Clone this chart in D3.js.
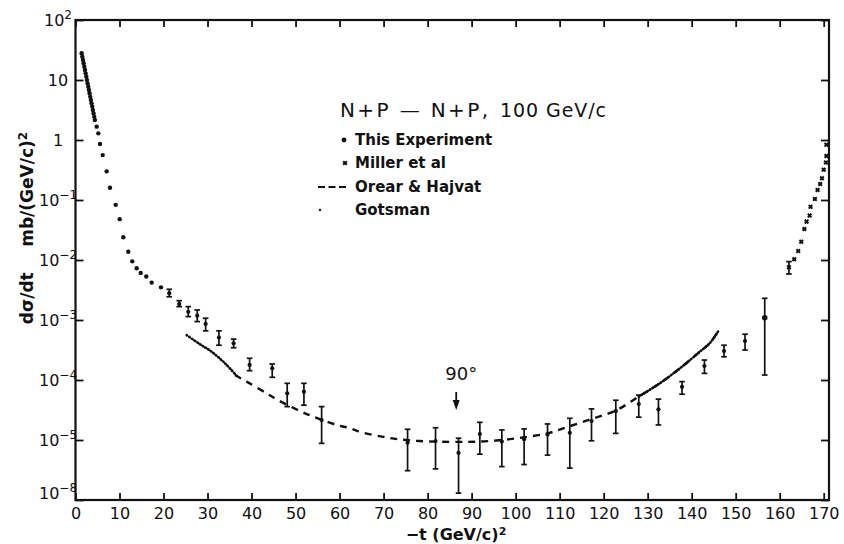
<!DOCTYPE html>
<html>
<head>
<meta charset="utf-8">
<script src="https://cdn.jsdelivr.net/npm/d3@7"></script>
<style>
body { margin: 0; background: #fff; }
text { font-family: "DejaVu Sans", sans-serif; fill: #111; }
</style>
</head>
<body>
<div id="graph"></div>
<script>
// This Experiment, points without visible error bars (-t, dsigma/dt in mb/(GeV/c)^2)
var expT = [1.40,1.55,1.70,1.85,2.00,2.15,2.30,2.45,2.60,2.75,2.90,3.05,3.20,3.35,3.50,3.65,3.80,3.95,4.10,4.25,4.40,
            4.81,5.18,5.56,6.18,7.09,7.84,9.13,10.04,10.86,11.99,12.9,13.9,14.81,16.08,17.31,19.42];
var expV = [27.9,24.5,21.6,19.0,16.7,14.7,12.9,11.4,10.0,8.8,7.75,6.82,6.0,5.28,4.64,4.08,3.6,3.16,2.78,2.45,2.15,
            1.67,1.29,0.86,0.56,0.30,0.16,0.083,0.048,0.024,0.0137,0.0095,0.0073,0.0061,0.0053,0.0042,0.0035];

// This Experiment, points with error bars
var errT  = [21.3,23.57,25.62,27.66,29.57,32.59,35.93,39.56,44.7,48.1,51.9,55.92,75.45,81.8,87.03,91.87,96.87,
             101.93,107.25,112.31,117.24,122.76,127.98,132.45,137.81,142.9,147.35,152.12,156.6];
var errV  = [0.0028,0.00185,0.00137,0.00118,0.00086,0.00051,0.00041,1.78e-4,1.57e-4,6.0e-5,6.4e-5,2.15e-5,9.0e-6,
             9.6e-6,6.1e-6,1.26e-5,9.4e-6,1.03e-5,1.24e-5,1.32e-5,2.07e-5,3.04e-5,3.98e-5,3.25e-5,7.7e-5,1.71e-4,
             3.04e-4,4.47e-4,1.09e-3];
var errLo = [0.00244,0.00167,0.00114,0.00094,0.00066,0.00038,0.000345,1.43e-4,1.11e-4,3.6e-5,3.8e-5,8.8e-6,3.08e-6,
             3.3e-6,1.3e-6,5.8e-6,3.6e-6,3.9e-6,5.6e-6,3.4e-6,9.7e-6,1.29e-5,2.4e-5,1.78e-5,5.8e-5,1.29e-4,2.44e-4,
             3.16e-4,1.21e-4];
var errHi = [0.00325,0.0021,0.00167,0.00147,0.00107,0.00066,0.00048,2.3e-4,1.85e-4,8.8e-5,8.8e-5,3.6e-5,1.51e-5,
             1.6e-5,1.07e-5,1.97e-5,1.47e-5,1.53e-5,1.85e-5,2.3e-5,3.3e-5,4.6e-5,5.6e-5,4.8e-5,9.4e-5,2.15e-4,3.8e-4,
             5.8e-4,2.3e-3];

// Miller et al (backward region)
var millerT = [162.1,163.3,164.2,164.9,165.6,166.1,166.8,167.0,168.0,168.6,169.2,169.6,170.0,170.5,170.6,170.6];
var millerV = [0.0076,0.0103,0.0141,0.0202,0.0329,0.0436,0.055,0.077,0.104,0.147,0.185,0.23,0.32,0.42,0.54,0.83];
var millerBarT = [162.1], millerBarLo = [0.00585], millerBarHi = [0.0094];

// Orear & Hajvat (dashed)
var orearT = [36.23,38.88,43.43,46.06,51.37,54.01,59.32,62.34,65.36,69.91,73.31,78.24,86.87,91.87,96.87,101.93,
              107.25,111.56,117.24,122.76,127.98,132.75,137.81,141.83,144.1,146.2];
var orearV = [1.21e-4,9.4e-5,6.0e-5,4.6e-5,2.96e-5,2.45e-5,1.78e-5,1.57e-5,1.32e-5,1.13e-5,1.03e-5,9.6e-6,9.3e-6,
              9.4e-6,1.0e-5,1.11e-5,1.29e-5,1.63e-5,2.24e-5,3.1e-5,5.3e-5,8.8e-5,1.67e-4,2.96e-4,4.1e-4,6.8e-4];

// Gotsman (dotted), two visible pieces
var gotsLoT = [25.26,28.28,30.93,33.95,36.6];
var gotsLoV = [5.6e-4,3.94e-4,2.96e-4,1.9e-4,1.18e-4];
var gotsHiT = [128.0,132.75,137.81,141.83,144.1,146.2];
var gotsHiV = [5.3e-5,8.8e-5,1.67e-4,2.96e-4,4.1e-4,6.8e-4];

var xTicks = [0,10,20,30,40,50,60,70,80,90,100,110,120,130,140,150,160,170];
var yTicks = [1e-6,1e-5,1e-4,1e-3,1e-2,1e-1,1,10,100];
var yTickExp = ["-8","-5","-4","-3","-2","-1","","","2"];
var t90 = 86.5;

var W = 844, H = 544;
var svg = d3.select("#graph").append("svg")
  .attr("width", W).attr("height", H);

var x = d3.scaleLinear().domain([0, 171.2]).range([75.5, 829]);
var y = d3.scaleLog().domain([1e-6, 1e2]).range([500, 20]);

// axes, ticks pointing inward
var gx = svg.append("g").attr("transform", "translate(0,500)")
  .call(d3.axisBottom(x).tickValues(xTicks).tickSizeInner(-7).tickSizeOuter(0).tickPadding(8));
gx.selectAll("text").style("font-size", "16px").attr("fill", "#111");

svg.append("g").attr("transform", "translate(0,20)")
  .call(d3.axisTop(x).tickValues(xTicks).tickSizeInner(-7).tickSizeOuter(0).tickFormat(""));
svg.append("g").attr("transform", "translate(75.5,0)")
  .call(d3.axisLeft(y).tickValues(yTicks).tickSizeInner(-8).tickSizeOuter(0).tickFormat(""));
svg.append("g").attr("transform", "translate(829,0)")
  .call(d3.axisRight(y).tickValues(yTicks).tickSizeInner(-8).tickSizeOuter(0).tickFormat(""));
svg.selectAll(".domain").remove();
svg.selectAll(".tick line").attr("stroke", "#111").attr("stroke-width", 1.8);

svg.append("rect")
  .attr("x", 75.5).attr("y", 20).attr("width", 829 - 75.5).attr("height", 480)
  .attr("fill", "none").attr("stroke", "#111").attr("stroke-width", 2.2);

// y tick labels with exponents
yTicks.forEach(function(v, i) {
  var t = svg.append("text")
    .attr("x", 58).attr("y", y(v) + (i == 0 ? -7 : 0)).attr("dy", "0.36em")
    .attr("text-anchor", "middle").style("font-size", "16px");
  if (v == 1) { t.text("1"); return; }
  t.append("tspan").text("10");
  if (yTickExp[i] != "") {
    t.append("tspan").attr("dy", "-0.55em").style("font-size", "12px").text(yTickExp[i].replace("-", "\u2212"));
  }
});

// axis titles
svg.append("text")
  .attr("x", 456).attr("y", 540).attr("text-anchor", "middle")
  .style("font-size", "16px").style("font-weight", "bold")
  .html('\u2212t (GeV/c)<tspan dy="-0.5em" style="font-size:11px">2</tspan>');

svg.append("text")
  .attr("transform", "translate(33,228) rotate(-90)")
  .attr("text-anchor", "middle")
  .style("font-size", "17px").style("font-weight", "bold")
  .html('d\u03c3/dt\u2003\u2002mb/(GeV/c)<tspan dy="-0.5em" style="font-size:12px">2</tspan>');

// curves
var line = d3.line()
  .x(function(d) { return x(d[0]); })
  .y(function(d) { return y(d[1]); })
  .curve(d3.curveCatmullRom);

svg.append("path")
  .datum(orearT.map(function(t, i) { return [t, orearV[i]]; }))
  .attr("d", line).attr("fill", "none").attr("stroke", "#111")
  .attr("stroke-width", 2.4).attr("stroke-dasharray", "7,6");

[[gotsLoT, gotsLoV], [gotsHiT, gotsHiV]].forEach(function(s) {
  svg.append("path")
    .datum(s[0].map(function(t, i) { return [t, s[1][i]]; }))
    .attr("d", line).attr("fill", "none").attr("stroke", "#111")
    .attr("stroke-width", 2.6).attr("stroke-linecap", "round").attr("stroke-dasharray", "0.8,2.4");
});

// error bars
function errorBars(ts, lo, hi) {
  var g = svg.append("g").attr("stroke", "#111").attr("stroke-width", 1.7);
  ts.forEach(function(t, i) {
    g.append("line").attr("x1", x(t)).attr("x2", x(t)).attr("y1", y(lo[i])).attr("y2", y(hi[i]));
    g.append("line").attr("x1", x(t) - 2.8).attr("x2", x(t) + 2.8).attr("y1", y(lo[i])).attr("y2", y(lo[i]));
    g.append("line").attr("x1", x(t) - 2.8).attr("x2", x(t) + 2.8).attr("y1", y(hi[i])).attr("y2", y(hi[i]));
  });
}
errorBars(errT, errLo, errHi);
errorBars(millerBarT, millerBarLo, millerBarHi);

svg.append("g").selectAll("circle")
  .data(expT.map(function(t, i) { return [t, expV[i]]; }))
  .enter().append("circle")
  .attr("cx", function(d) { return x(d[0]); })
  .attr("cy", function(d) { return y(d[1]); })
  .attr("r", 2.2).attr("fill", "#111");

svg.append("g").selectAll("circle")
  .data(errT.map(function(t, i) { return [t, errV[i]]; }))
  .enter().append("circle")
  .attr("cx", function(d) { return x(d[0]); })
  .attr("cy", function(d) { return y(d[1]); })
  .attr("r", function(d) { return d[1] > 1e-3 && d[0] > 150 ? 2.8 : 2.1; })
  .attr("fill", "#111");

function cross(g, cx, cy, s) {
  g.append("path")
    .attr("d", "M" + (cx - s) + "," + (cy - s) + "L" + (cx + s) + "," + (cy + s) +
               "M" + (cx - s) + "," + (cy + s) + "L" + (cx + s) + "," + (cy - s))
    .attr("stroke", "#111").attr("stroke-width", 2).attr("fill", "none");
}
var gm = svg.append("g");
millerT.forEach(function(t, i) { cross(gm, x(t), y(millerV[i]), 1.8); });

// 90 degree marker
var x90 = x(t90);
svg.append("text").attr("x", x90 + 5).attr("y", 380).attr("text-anchor", "middle")
  .style("font-size", "18px").text("90\u00b0");
svg.append("line").attr("x1", x90).attr("x2", x90).attr("y1", 392).attr("y2", 402)
  .attr("stroke", "#111").attr("stroke-width", 1.8);
svg.append("path").attr("d", "M" + (x90 - 3.5) + ",400L" + (x90 + 3.5) + ",400L" + x90 + ",410Z")
  .attr("fill", "#111");

// title and legend
svg.append("text").attr("x", 340).attr("y", 117)
  .attr("textLength", 148).attr("lengthAdjust", "spacing")
  .style("font-size", "20px").text("N+P \u2014 N+P,");
svg.append("text").attr("x", 500).attr("y", 117)
  .attr("textLength", 106).attr("lengthAdjust", "spacing")
  .style("font-size", "19px").text("100 GeV/c");

var legY = [140, 163, 187, 210];
var legLabels = ["This Experiment", "Miller et al", "Orear & Hajvat", "Gotsman"];
legLabels.forEach(function(s, i) {
  svg.append("text").attr("x", 355).attr("y", legY[i]).attr("dy", "0.36em")
    .style("font-size", "15px").style("font-weight", "bold").text(s);
});
svg.append("circle").attr("cx", 344).attr("cy", legY[0]).attr("r", 2.4).attr("fill", "#111");
cross(svg, 345, legY[1], 1.8);
svg.append("line").attr("x1", 318).attr("x2", 346).attr("y1", legY[2]).attr("y2", legY[2])
  .attr("stroke", "#111").attr("stroke-width", 2.2).attr("stroke-dasharray", "7,3.5");
svg.append("circle").attr("cx", 320).attr("cy", legY[3]).attr("r", 1.2).attr("fill", "#111");
</script>
</body>
</html>
